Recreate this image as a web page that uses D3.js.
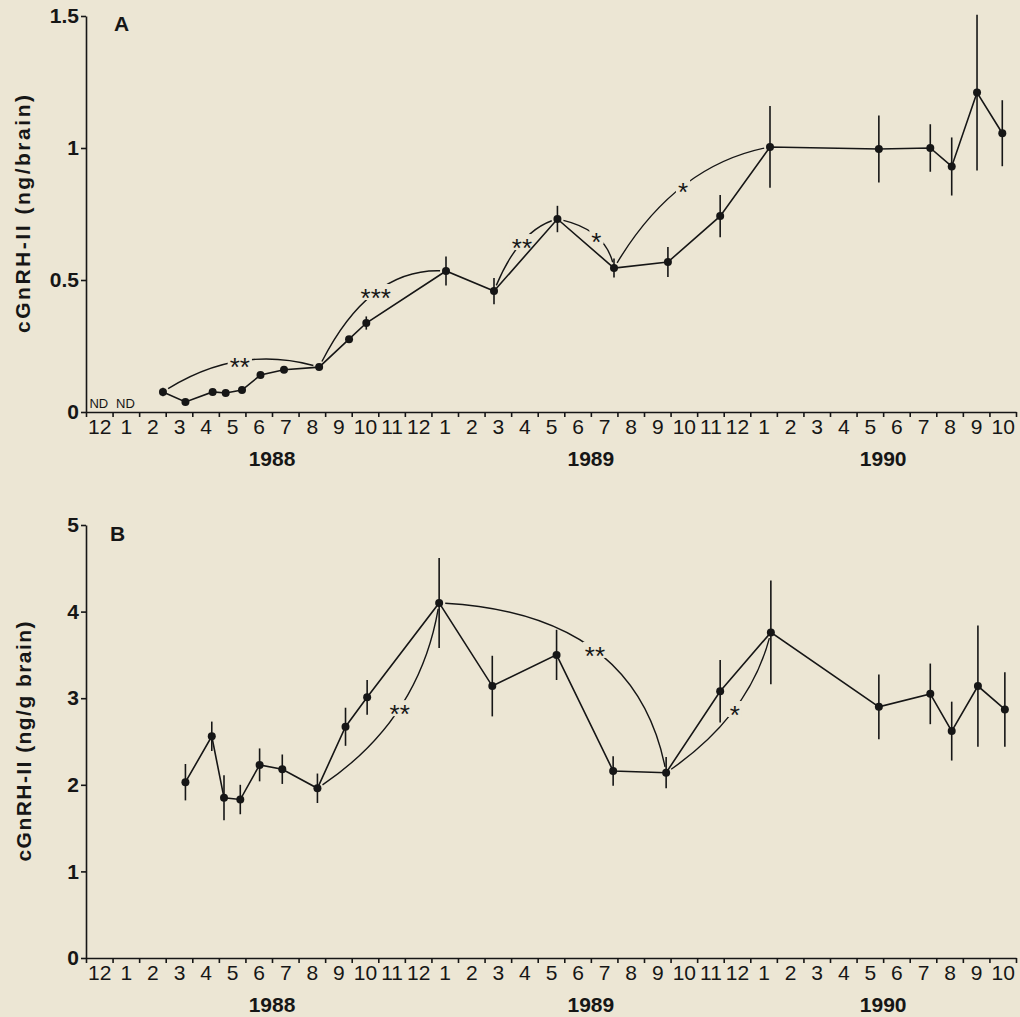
<!DOCTYPE html>
<html><head><meta charset="utf-8">
<script src="https://cdn.jsdelivr.net/npm/d3@7"></script>
<style>
html,body{margin:0;padding:0;background:#ece6d4;}
svg{display:block;font-family:"Liberation Sans",Arial,Helvetica,sans-serif;}
</style></head><body>
<svg id="chart" width="1020" height="1017"></svg>
<script>
// ---------- data ----------
const monthLabels = ["12","1","2","3","4","5","6","7","8","9","10","11","12",
                     "1","2","3","4","5","6","7","8","9","10","11","12",
                     "1","2","3","4","5","6","7","8","9","10"];
const yearLabels = ["1988","1989","1990"];
const yearLabelDates = ["1988-07-01","1989-07-01","1990-06-01"];
const ndLabels = ["ND","ND"];
const ndDates = ["1987-12-16","1988-01-16"];

// Panel A: cGnRH-II (ng/brain)
const datesA = ["1988-02-27","1988-03-24","1988-04-24","1988-05-09","1988-05-28","1988-06-18",
                "1988-07-15","1988-08-25","1988-09-28","1988-10-18","1989-01-18","1989-03-12",
                "1989-05-24","1989-07-28","1989-09-28","1989-11-27","1990-01-24","1990-05-27",
                "1990-07-25","1990-08-19","1990-09-17","1990-10-16"];
const valuesA = [0.076,0.038,0.076,0.072,0.083,0.14,0.16,0.17,0.276,0.337,0.534,0.458,
                 0.731,0.545,0.568,0.742,1.004,0.996,1.0,0.93,1.21,1.056];
const errorsA = [0.016,0.004,0.004,0.004,0.006,0.006,0.006,0.006,0.008,0.025,0.055,0.05,
                 0.05,0.036,0.057,0.08,0.155,0.127,0.09,0.11,0.295,0.125];
const yTicksA = [0,0.5,1,1.5];
const yTickLabelsA = ["0","0.5","1","1.5"];
const arcFromA = [0,7,11,12,13];
const arcToA = [7,10,12,13,16];
const arcLabelsA = ["**","***","**","*","*"];
const arcCtrlDatesA = ["1988-05-24","1988-10-21","1989-04-09","1989-07-20","1989-10-05"];
const arcCtrlValuesA = [0.263,0.557,0.693,0.695,0.9375];

// Panel B: cGnRH-II (ng/g brain)
const datesB = ["1988-03-24","1988-04-23","1988-05-07","1988-05-26","1988-06-17","1988-07-13",
                "1988-08-23","1988-09-24","1988-10-19","1989-01-10","1989-03-10","1989-05-23",
                "1989-07-27","1989-09-26","1989-11-27","1990-01-25","1990-05-27","1990-07-25",
                "1990-08-19","1990-09-18","1990-10-19"];
const valuesB = [2.03,2.56,1.85,1.83,2.23,2.18,1.96,2.67,3.01,4.1,3.14,3.5,
                 2.16,2.14,3.08,3.76,2.9,3.05,2.62,3.14,2.87];
const errorsB = [0.21,0.17,0.26,0.17,0.19,0.17,0.17,0.22,0.2,0.52,0.35,0.29,
                 0.17,0.18,0.36,0.6,0.375,0.35,0.34,0.7,0.43];
const yTicksB = [0,1,2,3,4,5];
const yTickLabelsB = ["0","1","2","3","4","5"];
const arcFromB = [6,9,13];
const arcToB = [9,13,15];
const arcLabelsB = ["**","**","*"];
const arcCtrlDatesB = ["1988-12-20","1989-08-24","1990-01-02"];
const arcCtrlValuesB = [2.74,3.995,2.80];

// ---------- helpers ----------
// month index counted from Dec 1987 (each month = equal width on the axis)
function mi(s){
  const [y,m,d] = s.split("-").map(Number);
  const dim = new Date(Date.UTC(y, m, 0)).getUTCDate();
  return (y-1987)*12 + (m-12) + (d-1)/dim;
}

const INK = "#161616";
const BG = "#ece6d4";
const svg = d3.select("#chart");
svg.append("rect").attr("width",1020).attr("height",1017).attr("fill",BG);

const x = d3.scaleLinear().domain([0, monthLabels.length]).range([86, 1016]);

function panel(cfg){
  const g = svg.append("g");
  const y = d3.scaleLinear().domain(cfg.yDomain).range(cfg.yRange);
  const y0 = cfg.yRange[0];

  // x axis: month boundary ticks
  const bounds = d3.range(0, monthLabels.length + 1);
  const xa = g.append("g").attr("transform", `translate(0,${y0})`)
    .call(d3.axisBottom(x).tickValues(bounds).tickSize(5).tickSizeOuter(0).tickFormat(""));
  xa.selectAll("path,line").attr("stroke", INK).attr("stroke-width", 1.6);

  // month labels centred in their month
  const mids = monthLabels.map((_, i) => i + 0.5);
  const xl = g.append("g").attr("transform", `translate(0,${y0})`)
    .call(d3.axisBottom(x).tickValues(mids).tickSize(0).tickPadding(7)
      .tickFormat((d, i) => monthLabels[i]));
  xl.select(".domain").remove();
  xl.selectAll("text").attr("font-size", 21).attr("fill", INK)
    .attr("font-family", "Liberation Sans, Arial, sans-serif");

  // year labels
  g.selectAll(".yr").data(yearLabels).join("text")
    .attr("x", (d, i) => x(mi(yearLabelDates[i])))
    .attr("y", y0 + 54)
    .attr("text-anchor", "middle").attr("font-size", 21).attr("font-weight", "bold")
    .attr("fill", INK).text(d => d);

  // y axis
  const ya = g.append("g").attr("transform", `translate(${x(0)},0)`)
    .call(d3.axisLeft(y).tickValues(cfg.yTicks).tickSize(5).tickSizeOuter(0).tickPadding(2)
      .tickFormat((d, i) => cfg.yTickLabels[i]));
  ya.selectAll("path,line").attr("stroke", INK).attr("stroke-width", 1.6);
  ya.selectAll("text").attr("font-size", 21).attr("font-weight", "bold").attr("fill", INK)
    .attr("font-family", "Liberation Sans, Arial, sans-serif");

  // y title
  const yc = (cfg.yRange[0] + cfg.yRange[1]) / 2;
  g.append("text")
    .attr("transform", `translate(${cfg.titleX},${yc}) rotate(-90)`)
    .attr("text-anchor", "middle").attr("font-size", 21).attr("font-weight", "bold")
    .attr("fill", INK).attr("textLength", cfg.titleLen).attr("lengthAdjust", "spacing")
    .text(cfg.title);

  // panel letter
  g.append("text").attr("x", cfg.letterX).attr("y", cfg.letterY)
    .attr("font-size", 21).attr("font-weight", "bold").attr("fill", INK).text(cfg.letter);

  const pts = cfg.dates.map((d, i) => ({ m: mi(d), v: cfg.values[i], e: cfg.errors[i] }));

  // significance arcs
  cfg.arcFrom.forEach((fi, k) => {
    const p0 = [x(pts[fi].m), y(pts[fi].v)];
    const p2 = [x(pts[cfg.arcTo[k]].m), y(pts[cfg.arcTo[k]].v)];
    const c = [x(mi(cfg.arcCtrlDates[k])), y(cfg.arcCtrlValues[k])];
    const path = d3.path();
    path.moveTo(p0[0], p0[1]);
    path.quadraticCurveTo(c[0], c[1], p2[0], p2[1]);
    const el = g.append("path").attr("d", path.toString()).attr("fill", "none")
      .attr("stroke", INK).attr("stroke-width", 1.4);
    const L = el.node().getTotalLength();
    const gap = 6;
    el.attr("stroke-dasharray", `0,${gap},${L - 2 * gap},${gap + 2}`);
    const mx = 0.25 * p0[0] + 0.5 * c[0] + 0.25 * p2[0];
    const my = 0.25 * p0[1] + 0.5 * c[1] + 0.25 * p2[1];
    const t = g.append("text").attr("x", mx).attr("y", my + 15)
      .attr("text-anchor", "middle").attr("font-size", 26).attr("fill", INK)
      .text(cfg.arcLabels[k]);
    const bb = t.node().getBBox();
    g.insert("rect", () => t.node())
      .attr("x", bb.x - 2).attr("y", my - 8).attr("width", bb.width + 4).attr("height", 16)
      .attr("fill", BG);
  });

  // error bars
  g.selectAll(".err").data(pts).join("line")
    .attr("x1", d => x(d.m)).attr("x2", d => x(d.m))
    .attr("y1", d => y(d.v - d.e)).attr("y2", d => y(d.v + d.e))
    .attr("stroke", INK).attr("stroke-width", 1.6);

  // line
  g.append("path").datum(pts)
    .attr("d", d3.line().x(d => x(d.m)).y(d => y(d.v)))
    .attr("fill", "none").attr("stroke", INK).attr("stroke-width", 1.6);

  // points
  g.selectAll(".pt").data(pts).join("circle")
    .attr("cx", d => x(d.m)).attr("cy", d => y(d.v)).attr("r", 4).attr("fill", INK);

  // ND markers
  if (cfg.nd) {
    g.selectAll(".nd").data(ndLabels).join("text")
      .attr("x", (d, i) => x(mi(ndDates[i]))).attr("y", y0 - 4)
      .attr("text-anchor", "middle").attr("font-size", 13).attr("fill", INK).text(d => d);
  }
}

panel({
  yDomain: [0, 1.5], yRange: [412, 16], yTicks: yTicksA, yTickLabels: yTickLabelsA,
  title: "cGnRH-II (ng/brain)", titleX: 30, titleLen: 238,
  letter: "A", letterX: 114, letterY: 31,
  dates: datesA, values: valuesA, errors: errorsA,
  arcFrom: arcFromA, arcTo: arcToA, arcLabels: arcLabelsA,
  arcCtrlDates: arcCtrlDatesA, arcCtrlValues: arcCtrlValuesA, nd: true
});
panel({
  yDomain: [0, 5], yRange: [958, 525], yTicks: yTicksB, yTickLabels: yTickLabelsB,
  title: "cGnRH-II (ng/g brain)", titleX: 31, titleLen: 240,
  letter: "B", letterX: 110, letterY: 541,
  dates: datesB, values: valuesB, errors: errorsB,
  arcFrom: arcFromB, arcTo: arcToB, arcLabels: arcLabelsB,
  arcCtrlDates: arcCtrlDatesB, arcCtrlValues: arcCtrlValuesB, nd: false
});
</script>
</body></html>
